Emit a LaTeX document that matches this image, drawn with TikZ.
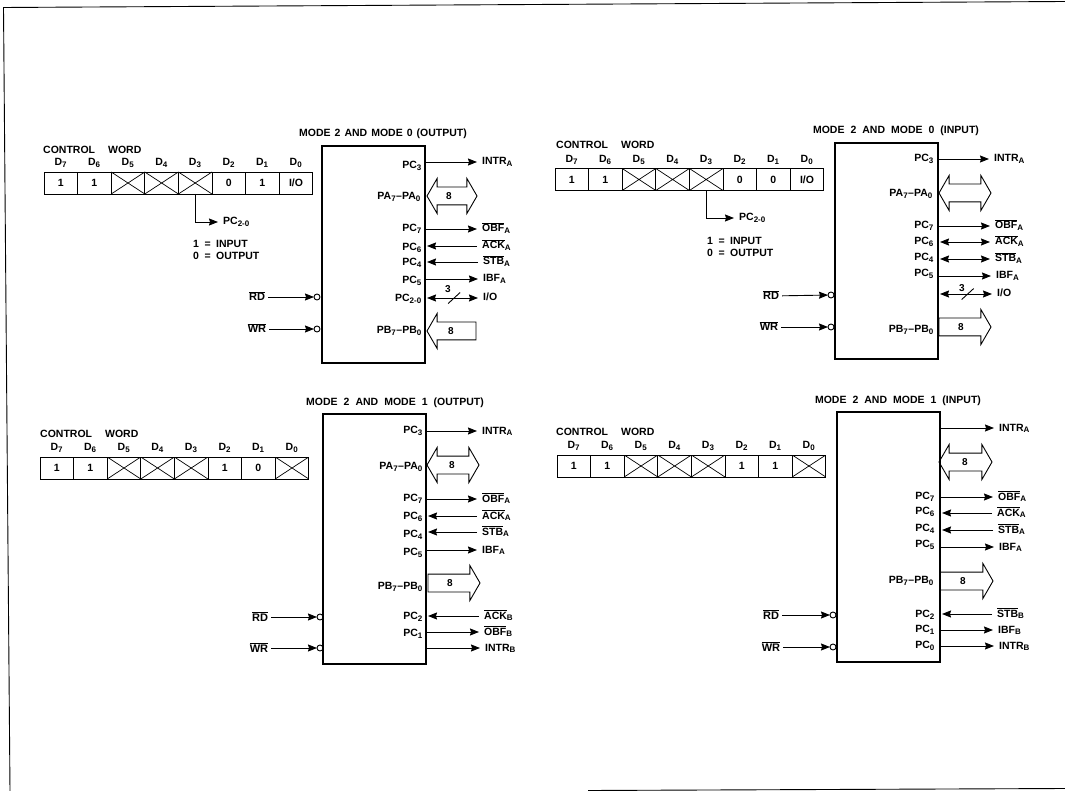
\documentclass[tikz,border=0pt]{standalone}
\usepackage{fontspec}
\setmainfont{Liberation Sans}
\usetikzlibrary{shapes.arrows, arrows.meta, positioning}
\newcommand{\sbar}[1]{$\overline{\hbox{#1}}$}
\newcommand{\sub}[1]{\textsubscript{\fontsize{8}{8}\selectfont #1}}
\tikzstyle{block} = [rectangle, draw=black, line width=1.5pt, anchor=north west, outer sep=0pt, minimum width=103pt]
\tikzstyle{bitcell} = [rectangle, draw=black, line width=0.9pt, minimum width=33.6pt, minimum height=22pt, outer sep=0pt, inner sep=0pt, font=\fontsize{10.5}{12}\bfseries\selectfont]
\tikzstyle{bitcross} = [bitcell, path picture={\draw [line width=0.7pt] (path picture bounding box.south west) -- (path picture bounding box.north east) (path picture bounding box.north west) -- (path picture bounding box.south east);}]
\tikzstyle{bitname} = [inner sep=1pt, text height=8pt, text depth=2pt, font=\fontsize{10.5}{12}\bfseries\selectfont]
\tikzstyle{caption} = [inner sep=0pt, font={\fontsize{10.5}{12}\bfseries\selectfont\spaceskip=6pt}]
\tikzstyle{note} = [anchor=west, align=left, inner sep=0pt, font={\fontsize{10.5}{11.5}\bfseries\selectfont\spaceskip=5.5pt}]
\tikzstyle{pinname} = [anchor=east, inner sep=0pt, text height=8pt, text depth=3pt, font=\fontsize{10.5}{12}\bfseries\selectfont]
\tikzstyle{sig} = [anchor=west, inner xsep=5pt, inner ysep=0pt, text height=9pt, text depth=3pt, font=\fontsize{10.5}{12}\bfseries\selectfont]
\tikzstyle{ctl} = [inner xsep=3pt, inner ysep=0pt, text height=9pt, text depth=1pt, font=\fontsize{11}{12}\bfseries\selectfont]
\tikzstyle{bubble} = [circle, draw=black, line width=0.9pt, minimum size=6pt, inner sep=0pt, outer sep=0pt]
\tikzstyle{arrow} = [line width=0.9pt, -{Stealth[length=9pt,width=7pt,inset=1pt]}]
\tikzstyle{inarrow} = [arrow, shorten >=2pt]
\tikzstyle{both} = [line width=0.9pt, {Stealth[length=9pt,width=7pt,inset=1pt]}-{Stealth[length=9pt,width=7pt,inset=1pt]}, shorten <=2pt]
\tikzstyle{busnum} = [inner sep=0pt, font=\fontsize{10}{12}\bfseries\selectfont]
\tikzstyle{bustwo} = [double arrow, draw=black, line width=0.9pt, double arrow tip angle=120, double arrow head extend=8.5pt, inner xsep=0pt, inner ysep=8.5pt, outer sep=0pt]
\tikzstyle{busone} = [single arrow, draw=black, line width=0.9pt, single arrow tip angle=120, single arrow head extend=8.5pt, inner xsep=0pt, inner ysep=8.5pt, outer sep=0pt]
\begin{document}
\begin{tikzpicture}[x=1pt, y=-1pt]
    \useasboundingbox (0,0) rectangle (1065,791);

    % Marco
    \coordinate (frametl) at (3.5,7.5);
    \coordinate (frametr) at (1065,1.5);
    \coordinate (framebl) at (10,791);
    \coordinate (framebm) at (588,790.5);
    \coordinate (framebr) at (1065,788.5);
    \draw [line width=0.9pt] (framebl) -- (frametl) -- (frametr);
    \draw [line width=0.9pt] (framebm) -- (framebr);

    % Mode 2 and mode 0, output
    \node (blocka) [block, minimum height=217pt] at (322,146) {};
    \node (titlea) [caption] at (383,134) {\spaceskip=4pt MODE 2 AND MODE 0 (OUTPUT)};
    \node (worda) [caption, anchor=west] at (43,150) {CONTROL\hspace{7pt} WORD};
    \node (a7) [bitcell, anchor=west] at (44,183) {1};
    \node (a6) [bitcell, right=0pt of a7] {1};
    \node (a5) [bitcross, right=0pt of a6] {};
    \node (a4) [bitcross, right=0pt of a5] {};
    \node (a3) [bitcross, right=0pt of a4] {};
    \node (a2) [bitcell, right=0pt of a3] {0};
    \node (a1) [bitcell, right=0pt of a2] {1};
    \node (a0) [bitcell, right=0pt of a1] {I/O};
    \node (da7) [bitname, above=3pt of a7] {D\sub{7}};
    \node (da6) [bitname, above=3pt of a6] {D\sub{6}};
    \node (da5) [bitname, above=3pt of a5] {D\sub{5}};
    \node (da4) [bitname, above=3pt of a4] {D\sub{4}};
    \node (da3) [bitname, above=3pt of a3] {D\sub{3}};
    \node (da2) [bitname, above=3pt of a2] {D\sub{2}};
    \node (da1) [bitname, above=3pt of a1] {D\sub{1}};
    \node (da0) [bitname, above=3pt of a0] {D\sub{0}};
    \node (sela) [sig] at (218,222) {PC\sub{2-0}};
    \node (notea) [note] at (193,250) {1 = INPUT\\0 = OUTPUT};
    \node (pc3a) [pinname] at (422,166) {PC\sub{3}};
    \node (paa) [pinname] at (421,197) {PA\sub{7}–PA\sub{0}};
    \node (pc7a) [pinname] at (422,229) {PC\sub{7}};
    \node (pc6a) [pinname] at (422,248) {PC\sub{6}};
    \node (pc4a) [pinname] at (422,263) {PC\sub{4}};
    \node (pc5a) [pinname] at (422,281) {PC\sub{5}};
    \node (pc20a) [pinname] at (422,299) {PC\sub{2-0}};
    \node (pba) [pinname] at (422,331) {PB\sub{7}–PB\sub{0}};
    \node (intraa) [sig] at (477,162) {INTR\sub{A}};
    \node (obfa) [sig] at (477,229) {\sbar{OBF}\sub{A}};
    \node (acka) [sig] at (477,246) {\sbar{ACK}\sub{A}};
    \node (stba) [sig] at (478,262) {\sbar{STB}\sub{A}};
    \node (ibfa) [sig] at (478,279) {IBF\sub{A}};
    \node (ioa) [sig] at (478,298) {I/O};
    \node (busaa) [bustwo, minimum height=50pt] at (452,196) {};
    \node (numaa) [busnum] at (449,196) {8};
    \node (busba) [busone, minimum height=49pt, shape border rotate=180, anchor=tip] at (427,331) {};
    \node (numba) [busnum] at (451,331) {8};
    \node (rda) [ctl] at (257,297) {\sbar{RD}};
    \node (wra) [ctl] at (257,329) {\sbar{WR}};
    \node (bubrda) [bubble] at (317,297) {};
    \node (bubwra) [bubble] at (317,329) {};
    \draw [arrow] (a3.south) |- (sela);
    \draw [arrow] (blocka.east |- intraa) -- (intraa);
    \draw [arrow] (blocka.east |- obfa) -- (obfa);
    \draw [inarrow] (acka) -- (blocka.east |- acka);
    \draw [inarrow] (stba) -- (blocka.east |- stba);
    \draw [arrow] (blocka.east |- ibfa) -- (ibfa);
    \draw [both] (blocka.east |- ioa) -- coordinate[pos=0.55] (slasha) (ioa);
    \draw [line width=0.9pt] (slasha) ++(-6,5.5) -- ++(12,-11);
    \node (numioa) [busnum] at (448,289) {3};
    \draw [arrow] (rda) -- (bubrda);
    \draw [arrow] (wra) -- (bubwra);

    % Mode 2 and mode 0, input
    \node (blockb) [block, minimum height=216pt] at (835,143) {};
    \node (titleb) [caption] at (896,131) {MODE 2 AND MODE 0 (INPUT)};
    \node (wordb) [caption, anchor=west] at (556,145) {CONTROL\hspace{7pt} WORD};
    \node (b7) [bitcell, anchor=west] at (555,179.5) {1};
    \node (b6) [bitcell, right=0pt of b7] {1};
    \node (b5) [bitcross, right=0pt of b6] {};
    \node (b4) [bitcross, right=0pt of b5] {};
    \node (b3) [bitcross, right=0pt of b4] {};
    \node (b2) [bitcell, right=0pt of b3] {0};
    \node (b1) [bitcell, right=0pt of b2] {0};
    \node (b0) [bitcell, right=0pt of b1] {I/O};
    \node (db7) [bitname, above=3pt of b7] {D\sub{7}};
    \node (db6) [bitname, above=3pt of b6] {D\sub{6}};
    \node (db5) [bitname, above=3pt of b5] {D\sub{5}};
    \node (db4) [bitname, above=3pt of b4] {D\sub{4}};
    \node (db3) [bitname, above=3pt of b3] {D\sub{3}};
    \node (db2) [bitname, above=3pt of b2] {D\sub{2}};
    \node (db1) [bitname, above=3pt of b1] {D\sub{1}};
    \node (db0) [bitname, above=3pt of b0] {D\sub{0}};
    \node (selb) [sig] at (734,218) {PC\sub{2-0}};
    \node (noteb) [note] at (707,247) {1 = INPUT\\0 = OUTPUT};
    \node (pc3b) [pinname] at (934,159) {PC\sub{3}};
    \node (pab) [pinname] at (933,194) {PA\sub{7}–PA\sub{0}};
    \node (pc7b) [pinname] at (934,226) {PC\sub{7}};
    \node (pc6b) [pinname] at (934,242) {PC\sub{6}};
    \node (pc4b) [pinname] at (934,258) {PC\sub{4}};
    \node (pc5b) [pinname] at (934,274) {PC\sub{5}};
    \node (pbb) [pinname] at (934,330) {PB\sub{7}–PB\sub{0}};
    \node (intrab) [sig] at (989,159) {INTR\sub{A}};
    \node (obfb) [sig] at (990,226) {\sbar{OBF}\sub{A}};
    \node (ackb) [sig] at (990,242) {\sbar{ACK}\sub{A}};
    \node (stbb) [sig] at (990,259) {\sbar{STB}\sub{A}};
    \node (ibfb) [sig] at (991,276) {IBF\sub{A}};
    \node (iob) [sig] at (992,294) {I/O};
    \node (busab) [bustwo, minimum height=52pt] at (965,193) {};
    \node (busbb) [busone, minimum height=52pt, anchor=tail] at (939,327) {};
    \node (numbb) [busnum] at (961,327) {8};
    \node (rdb) [ctl] at (771,296) {\sbar{RD}};
    \node (wrb) [ctl] at (769,327) {\sbar{WR}};
    \node (bubrdb) [bubble] at (831,295) {};
    \node (bubwrb) [bubble] at (831,327) {};
    \draw [arrow] (b3.south) |- (selb);
    \draw [arrow] (blockb.east |- intrab) -- (intrab);
    \draw [arrow] (blockb.east |- obfb) -- (obfb);
    \draw [both] (blockb.east |- ackb) -- (ackb);
    \draw [both] (blockb.east |- stbb) -- (stbb);
    \draw [arrow] (blockb.east |- ibfb) -- (ibfb);
    \draw [both] (blockb.east |- iob) -- coordinate[pos=0.55] (slashb) (iob);
    \draw [line width=0.9pt] (slashb) ++(-6,5.5) -- ++(12,-11);
    \node (numiob) [busnum] at (962,288) {3};
    \draw [arrow] (rdb) -- (bubrdb);
    \draw [arrow] (wrb) -- (bubwrb);

    % Mode 2 and mode 1, output
    \node (blockc) [block, minimum height=250pt] at (323,414) {};
    \node (titlec) [caption] at (395,403) {MODE 2 AND MODE 1 (OUTPUT)};
    \node (wordc) [caption, anchor=west] at (40,434) {CONTROL\hspace{7pt} WORD};
    \node (c7) [bitcell, anchor=west] at (40,468) {1};
    \node (c6) [bitcell, right=0pt of c7] {1};
    \node (c5) [bitcross, right=0pt of c6] {};
    \node (c4) [bitcross, right=0pt of c5] {};
    \node (c3) [bitcross, right=0pt of c4] {};
    \node (c2) [bitcell, right=0pt of c3] {1};
    \node (c1) [bitcell, right=0pt of c2] {0};
    \node (c0) [bitcross, right=0pt of c1] {};
    \node (dc7) [bitname, above=3pt of c7] {D\sub{7}};
    \node (dc6) [bitname, above=3pt of c6] {D\sub{6}};
    \node (dc5) [bitname, above=3pt of c5] {D\sub{5}};
    \node (dc4) [bitname, above=3pt of c4] {D\sub{4}};
    \node (dc3) [bitname, above=3pt of c3] {D\sub{3}};
    \node (dc2) [bitname, above=3pt of c2] {D\sub{2}};
    \node (dc1) [bitname, above=3pt of c1] {D\sub{1}};
    \node (dc0) [bitname, above=3pt of c0] {D\sub{0}};
    \node (pc3c) [pinname] at (423,431) {PC\sub{3}};
    \node (pac) [pinname] at (423,467) {PA\sub{7}–PA\sub{0}};
    \node (pc7c) [pinname] at (423,499) {PC\sub{7}};
    \node (pc6c) [pinname] at (423,517) {PC\sub{6}};
    \node (pc4c) [pinname] at (423,535) {PC\sub{4}};
    \node (pc5c) [pinname] at (423,553) {PC\sub{5}};
    \node (pbc) [pinname] at (423,587) {PB\sub{7}–PB\sub{0}};
    \node (pc2c) [pinname] at (423,617) {PC\sub{2}};
    \node (pc1c) [pinname] at (423,634) {PC\sub{1}};
    \node (intrac) [sig] at (477,431) {INTR\sub{A}};
    \node (obfc) [sig] at (477,499) {\sbar{OBF}\sub{A}};
    \node (ackc) [sig] at (477,516) {\sbar{ACK}\sub{A}};
    \node (stbc) [sig] at (477,532) {\sbar{STB}\sub{A}};
    \node (ibfc) [sig] at (477,550) {IBF\sub{A}};
    \node (ackbc) [sig] at (479,616) {\sbar{ACK}\sub{B}};
    \node (obfbc) [sig] at (479,632) {\sbar{OBF}\sub{B}};
    \node (intrbc) [sig] at (480,648) {INTR\sub{B}};
    \node (busac) [bustwo, minimum height=52pt] at (453,465) {};
    \node (numac) [busnum] at (452,465) {8};
    \node (busbc) [busone, minimum height=52pt, anchor=tail] at (428,583) {};
    \node (numbc) [busnum] at (450,583) {8};
    \node (rdc) [ctl] at (260,617) {\sbar{RD}};
    \node (wrc) [ctl] at (259,648) {\sbar{WR}};
    \node (bubrdc) [bubble] at (320,617) {};
    \node (bubwrc) [bubble] at (320,648) {};
    \draw [arrow] (blockc.east |- intrac) -- (intrac);
    \draw [arrow] (blockc.east |- obfc) -- (obfc);
    \draw [inarrow] (ackc) -- (blockc.east |- ackc);
    \draw [inarrow] (stbc) -- (blockc.east |- stbc);
    \draw [arrow] (blockc.east |- ibfc) -- (ibfc);
    \draw [inarrow] (ackbc) -- (blockc.east |- ackbc);
    \draw [arrow] (blockc.east |- obfbc) -- (obfbc);
    \draw [arrow] (blockc.east |- intrbc) -- (intrbc);
    \draw [arrow] (rdc) -- (bubrdc);
    \draw [arrow] (wrc) -- (bubwrc);

    % Mode 2 and mode 1, input
    \node (blockd) [block, minimum height=250pt] at (837,412) {};
    \node (titled) [caption] at (898,401) {MODE 2 AND MODE 1 (INPUT)};
    \node (wordd) [caption, anchor=west] at (556,432) {CONTROL\hspace{7pt} WORD};
    \node (d7) [bitcell, anchor=west] at (557,466) {1};
    \node (d6) [bitcell, right=0pt of d7] {1};
    \node (d5) [bitcross, right=0pt of d6] {};
    \node (d4) [bitcross, right=0pt of d5] {};
    \node (d3) [bitcross, right=0pt of d4] {};
    \node (d2) [bitcell, right=0pt of d3] {1};
    \node (d1) [bitcell, right=0pt of d2] {1};
    \node (d0) [bitcross, right=0pt of d1] {};
    \node (dd7) [bitname, above=3pt of d7] {D\sub{7}};
    \node (dd6) [bitname, above=3pt of d6] {D\sub{6}};
    \node (dd5) [bitname, above=3pt of d5] {D\sub{5}};
    \node (dd4) [bitname, above=3pt of d4] {D\sub{4}};
    \node (dd3) [bitname, above=3pt of d3] {D\sub{3}};
    \node (dd2) [bitname, above=3pt of d2] {D\sub{2}};
    \node (dd1) [bitname, above=3pt of d1] {D\sub{1}};
    \node (dd0) [bitname, above=3pt of d0] {D\sub{0}};
    \node (pc7d) [pinname] at (935,497) {PC\sub{7}};
    \node (pc6d) [pinname] at (935,512) {PC\sub{6}};
    \node (pc4d) [pinname] at (935,529) {PC\sub{4}};
    \node (pc5d) [pinname] at (935,545) {PC\sub{5}};
    \node (pbd) [pinname] at (934,581) {PB\sub{7}–PB\sub{0}};
    \node (pc2d) [pinname] at (935,615) {PC\sub{2}};
    \node (pc1d) [pinname] at (935,630) {PC\sub{1}};
    \node (pc0d) [pinname] at (935,646) {PC\sub{0}};
    \node (intrad) [sig] at (994,428) {INTR\sub{A}};
    \node (obfd) [sig] at (993,497) {\sbar{OBF}\sub{A}};
    \node (ackd) [sig] at (992,513) {\sbar{ACK}\sub{A}};
    \node (stbd) [sig] at (993,530) {\sbar{STB}\sub{A}};
    \node (ibfd) [sig] at (994,547) {IBF\sub{A}};
    \node (stbbd) [sig] at (992,614) {\sbar{STB}\sub{B}};
    \node (ibfbd) [sig] at (993,630) {IBF\sub{B}};
    \node (intrbd) [sig] at (994,646) {INTR\sub{B}};
    \node (busad) [bustwo, minimum height=53pt] at (965.5,462) {};
    \node (numad) [busnum] at (965,462) {8};
    \node (busbd) [busone, minimum height=53pt, anchor=tail] at (940,581) {};
    \node (numbd) [busnum] at (963,581) {8};
    \node (rdd) [ctl] at (771,615) {\sbar{RD}};
    \node (wrd) [ctl] at (771,647) {\sbar{WR}};
    \node (bubrdd) [bubble] at (833,615) {};
    \node (bubwrd) [bubble] at (833,647) {};
    \draw [arrow] (blockd.east |- intrad) -- (intrad);
    \draw [arrow] (blockd.east |- obfd) -- (obfd);
    \draw [inarrow] (ackd) -- (blockd.east |- ackd);
    \draw [inarrow] (stbd) -- (blockd.east |- stbd);
    \draw [arrow] (blockd.east |- ibfd) -- (ibfd);
    \draw [inarrow] (stbbd) -- (blockd.east |- stbbd);
    \draw [arrow] (blockd.east |- ibfbd) -- (ibfbd);
    \draw [arrow] (blockd.east |- intrbd) -- (intrbd);
    \draw [arrow] (rdd) -- (bubrdd);
    \draw [arrow] (wrd) -- (bubwrd);
\end{tikzpicture}
\end{document}
